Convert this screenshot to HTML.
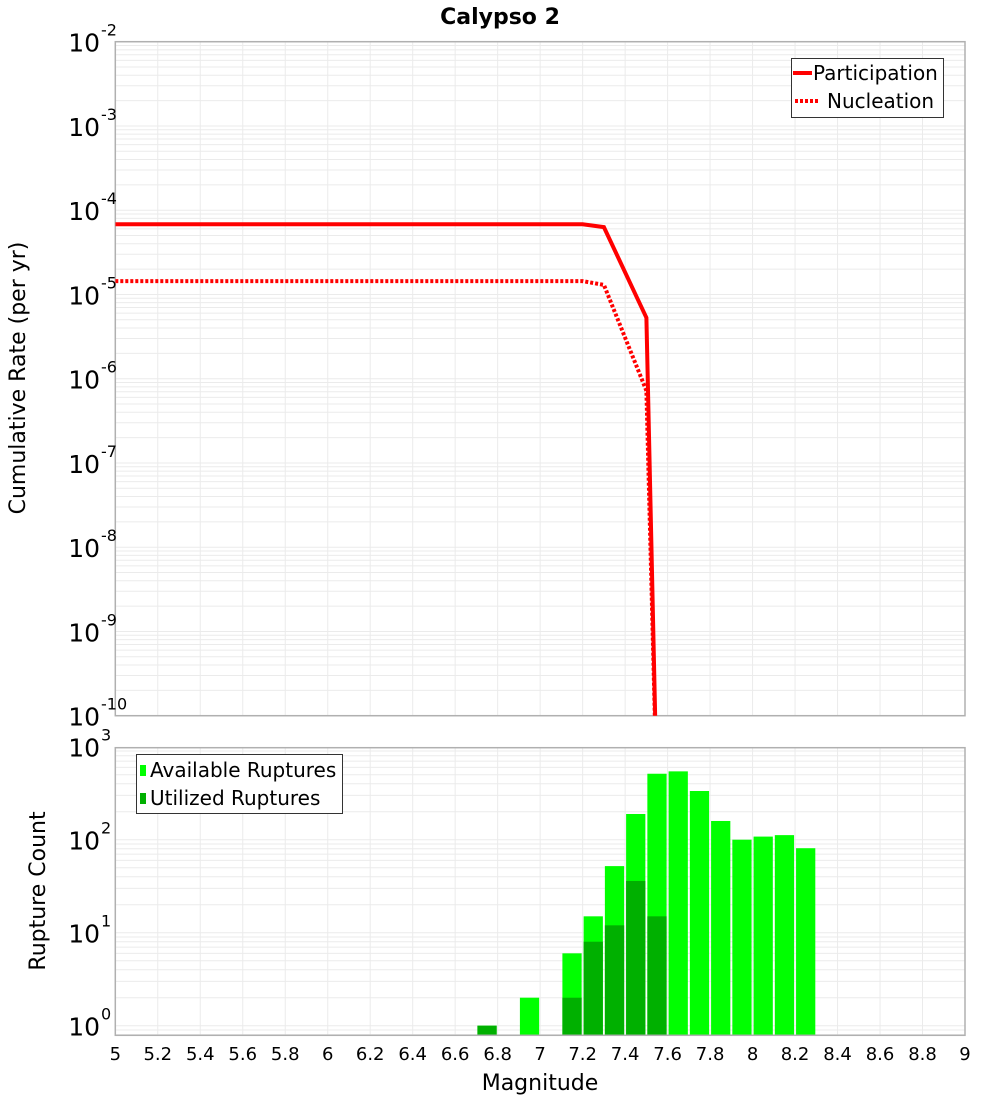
<!DOCTYPE html>
<html><head><meta charset="utf-8"><style>
body{margin:0;background:#fff;}
svg{display:block;font-family:"DejaVu Sans","Liberation Sans",sans-serif;}
</style></head><body>
<svg id="chart" width="1000" height="1100" xmlns="http://www.w3.org/2000/svg">
<text x="500" y="24" text-anchor="middle" font-size="22" font-weight="bold">Calypso 2</text>
<text transform="translate(25,378) rotate(-90)" text-anchor="middle" font-size="22">Cumulative Rate (per yr)</text>
<text transform="translate(45,891) rotate(-90)" text-anchor="middle" font-size="22">Rupture Count</text>
<text x="540" y="1090" text-anchor="middle" font-size="22">Magnitude</text>
<g id="topPlot"></g>
<g id="botPlot"></g>
<g>
<rect x="791.5" y="58.5" width="152" height="59" fill="#fff" stroke="#333" stroke-width="1"/>
<line x1="793" y1="73" x2="812" y2="73" stroke="#f00" stroke-width="4"/>
<text x="813" y="80" font-size="20">Participation</text>
<line x1="795" y1="101" x2="820" y2="101" stroke="#f00" stroke-width="4" stroke-dasharray="3,2"/>
<text x="827" y="108" font-size="20">Nucleation</text>
</g>
<g>
<rect x="136.5" y="754.5" width="206" height="59" fill="#fff" stroke="#333" stroke-width="1"/>
<rect x="140" y="765" width="6" height="11" fill="#00ff00"/>
<text x="150" y="777" font-size="20">Available Ruptures</text>
<rect x="140" y="793" width="6" height="11" fill="#00b000"/>
<text x="150" y="805" font-size="20">Utilized Ruptures</text>
</g>
</svg>
<script>
const partMags=[5.0,7.2,7.3,7.5,7.55];
const partRates=[6.8e-5,6.8e-5,6.3e-5,5.3e-6,1e-11];
const nuclMags=[5.0,7.2,7.3,7.5,7.55];
const nuclRates=[1.44e-5,1.44e-5,1.3e-5,7.2e-7,1e-11];
const binMags=[6.75,6.95,7.15,7.25,7.35,7.45,7.55,7.65,7.75,7.85,7.95,8.05,8.15,8.25];
const availCounts=[1,2,6,15,52,189,512,543,334,159,100,108,112,81];
const usedCounts=[1,0,2,8,12,36,15,0,0,0,0,0,0,0];
const xTicks=[5,5.2,5.4,5.6,5.8,6,6.2,6.4,6.6,6.8,7,7.2,7.4,7.6,7.8,8,8.2,8.4,8.6,8.8,9];
const topExps=[-2,-3,-4,-5,-6,-7,-8,-9,-10];
const botExps=[0,1,2,3];

const NS="http://www.w3.org/2000/svg";
const L=115.3,R=965,T1=41.7,B1=715.7,T2=747.7,B2=1035.3;
const x=m=>L+(m-5)/4*(R-L);
const yTop=v=>T1+(-2-Math.log10(v))/8*(B1-T1);
const botDec=93;const y0=1025.7;
const yBot=v=>y0-Math.log10(v)*botDec;
function mk(tag,attrs,parent){const e=document.createElementNS(NS,tag);for(const k in attrs)e.setAttribute(k,attrs[k]);parent.appendChild(e);return e;}
const topG=document.getElementById('topPlot'),botG=document.getElementById('botPlot');
function grid(g,T,B,yf,lo,hi){
  for(let e=lo;e<hi;e++)for(let k=1;k<10;k++){const yy=yf(k*Math.pow(10,e));if(yy<T-0.5||yy>B+0.5)continue;
    const l=mk('line',{x1:L,x2:R,y1:yy,y2:yy,stroke:'#ebebeb','stroke-width':1},g);
    
    }
  xTicks.forEach(t=>{const l=mk('line',{x1:x(t),x2:x(t),y1:T,y2:B,stroke:'#ebebeb','stroke-width':1},g);
    
    });
}
grid(topG,T1,B1,yTop,-10,-1);
grid(botG,T2,B2,yBot,-1,3);
const f1=mk('rect',{x:L,y:T1,width:R-L,height:B1-T1,fill:'none',stroke:'#b0b0b0','stroke-width':1.5},topG);


function ylab(g,yy,e,name){const t=mk('text',{x:100,y:yy+10,'text-anchor':'end','font-size':25},g);t.textContent='10';
  
  
  const s=mk('text',{x:101,y:yy-6,'font-size':16},g);s.textContent=String(e);
  
  }
topExps.forEach(e=>ylab(topG,yTop(Math.pow(10,e)),e,'top-y-tick-label'));
botExps.forEach(e=>ylab(botG,yBot(Math.pow(10,e)),e,'bottom-y-tick-label'));
const clip=mk('clipPath',{id:'c1'},topG);mk('rect',{x:L,y:T1,width:R-L,height:B1-T1},clip);
function path(ms,vs){return ms.map((m,i)=>(i?'L':'M')+x(m).toFixed(1)+','+yTop(vs[i]).toFixed(1)).join(' ');}
const p1=mk('path',{d:path(partMags,partRates),fill:'none',stroke:'#f00','stroke-width':4,'clip-path':'url(#c1)'},topG);


const p2=mk('path',{d:path(nuclMags,nuclRates),fill:'none',stroke:'#f00','stroke-width':4,'stroke-dasharray':'3,2','clip-path':'url(#c1)'},topG);


const clip2=mk('clipPath',{id:'c2'},botG);mk('rect',{x:L,y:T2,width:R-L,height:B2-T2},clip2);
binMags.forEach((m,i)=>{
  const xl=x(m-0.05)+1,w=x(m+0.05)-x(m-0.05)-2;
  if(availCounts[i]>0){const yy=yBot(availCounts[i]);
    const b=mk('rect',{x:xl,y:yy,width:w,height:B2-yy,fill:'#00ff00','clip-path':'url(#c2)'},botG);
    
    }
  if(usedCounts[i]>0){const yy=yBot(usedCounts[i]);
    const b=mk('rect',{x:xl,y:yy,width:w,height:B2-yy,fill:'#00b000','clip-path':'url(#c2)'},botG);
    
    }
});
const f2=mk('rect',{x:L,y:T2,width:R-L,height:B2-T2,fill:'none',stroke:'#b0b0b0','stroke-width':1.5},botG);


xTicks.forEach(t=>{const tx=mk('text',{x:x(t),y:1060,'text-anchor':'middle','font-size':18},botG);
  tx.textContent=String(t);
  
  });
</script>
</body></html>
